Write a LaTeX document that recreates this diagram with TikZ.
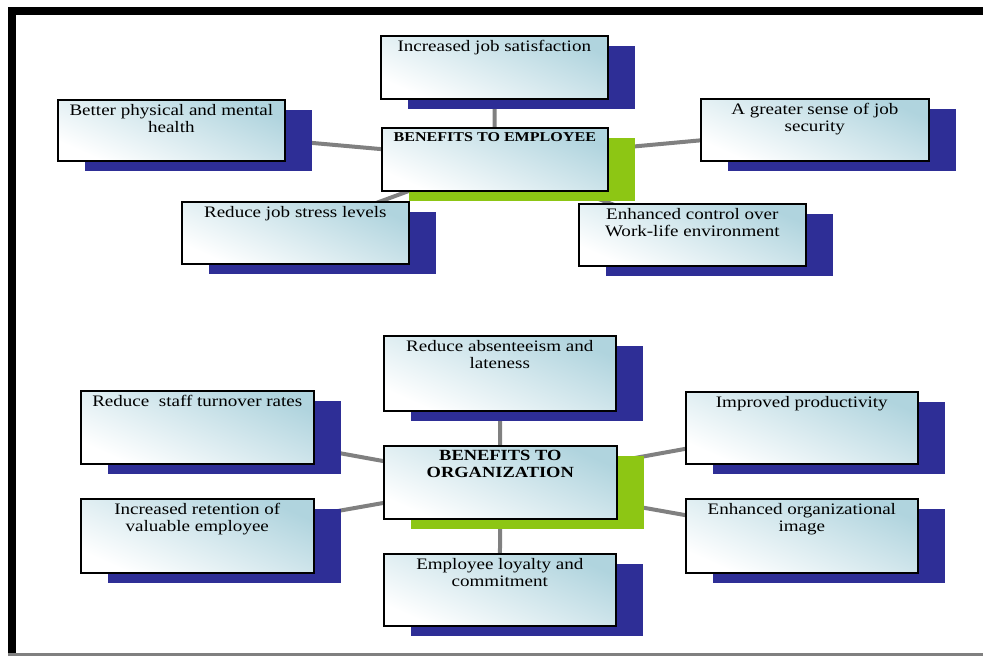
\documentclass[tikz,border=0pt]{standalone}
\usepackage{fontspec}
\setmainfont{Liberation Serif}[FakeStretch=1.19]
\usetikzlibrary{shadows,backgrounds}
\definecolor{navy}{RGB}{46,46,150}
\definecolor{lime}{RGB}{141,198,20}
\definecolor{tint}{RGB}{176,212,222}
\definecolor{linkgray}{RGB}{128,128,128}
\newcommand\cardbody[3]{\parbox[c][#2][t]{#1}{\centering\vspace*{3bp}\strut #3\par}}
\tikzset{
  card/.style={draw=black, line width=1.6bp, inner sep=0pt, anchor=north west,
    top color=tint, middle color=white!85!tint, bottom color=white, shading angle=-24, text=black,
    font=\fontsize{16bp}{17.5bp}\selectfont},
  navyshadow/.style={general shadow={fill=navy, shadow xshift=27bp, shadow yshift=-10bp}},
  limeshadow/.style={general shadow={fill=lime, shadow xshift=27bp, shadow yshift=-10bp}},
  empfont/.style={font=\fontsize{13.5bp}{15bp}\selectfont\bfseries},
  orgfont/.style={font=\fontsize{15.5bp}{17bp}\selectfont\bfseries},
  link/.style={draw=linkgray, line width=4bp},
  framebar/.style={fill=black},
}
\begin{document}
\begin{tikzpicture}[x=1bp, y=-1bp]
\useasboundingbox (0,0) rectangle (983,656);
% frame
\fill[framebar] (8,7) rectangle (983,15);
\fill[framebar] (8,7) rectangle (16,656);
\fill[linkgray] (8,653) rectangle (983,656);

% top group
\node[card,navyshadow] (js) at (380,35) {\cardbody{227bp}{63bp}{Increased job satisfaction}};
\node[card,limeshadow,empfont] (emp) at (381,127) {\cardbody{226bp}{63bp}{BENEFITS TO EMPLOYEE}};
\node[card,navyshadow] (bh) at (57,99) {\cardbody{227bp}{61bp}{Better physical and mental\\health}};
\node[card,navyshadow] (sec) at (700,98) {\cardbody{228bp}{62bp}{A greater sense of job\\security}};
\node[card,navyshadow] (str) at (181,201) {\cardbody{227bp}{62bp}{Reduce job stress levels}};
\node[card,navyshadow] (ctl) at (578,203) {\cardbody{227bp}{62bp}{Enhanced control over\\Work-life environment}};

% bottom group
\node[card,navyshadow] (abs) at (383,335) {\cardbody{232bp}{75bp}{Reduce absenteeism and\\lateness}};
\node[card,limeshadow,orgfont] (org) at (383,445) {\cardbody{233bp}{73bp}{BENEFITS TO\\ORGANIZATION}};
\node[card,navyshadow] (loy) at (383,553) {\cardbody{232bp}{72bp}{Employee loyalty and\\commitment}};
\node[card,navyshadow] (tur) at (80,390) {\cardbody{233bp}{73bp}{Reduce\ \ staff turnover rates}};
\node[card,navyshadow] (ret) at (80,498) {\cardbody{233bp}{74bp}{Increased retention of\\valuable employee}};
\node[card,navyshadow] (pro) at (685,391) {\cardbody{232bp}{72bp}{Improved productivity}};
\node[card,navyshadow] (img) at (685,498) {\cardbody{232bp}{74bp}{Enhanced organizational\\image}};

\begin{scope}[on background layer]
  \draw[link] (emp.center) -- (js.center);
  \draw[link] (emp.center) -- (bh.center);
  \draw[link] (emp.center) -- (sec.center);
  \draw[link] (emp.center) -- (str.center);
  \draw[link] (emp.center) -- (ctl.center);
  \draw[link] (org.center) -- (abs.center);
  \draw[link] (org.center) -- (loy.center);
  \draw[link] (org.center) -- (tur.center);
  \draw[link] (org.center) -- (ret.center);
  \draw[link] (org.center) -- (pro.center);
  \draw[link] (org.center) -- (img.center);
\end{scope}
\end{tikzpicture}
\end{document}
